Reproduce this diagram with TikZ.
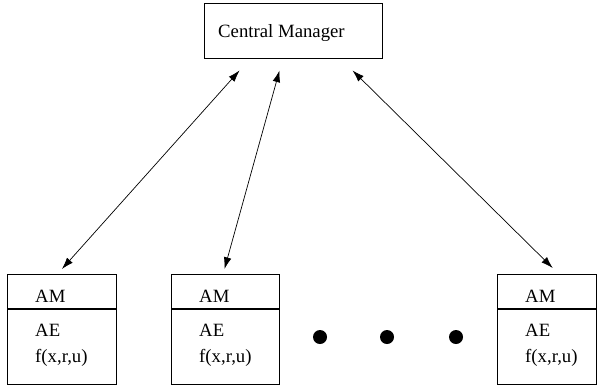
\documentclass[tikz,border=0pt]{standalone}
\usepackage{fontspec}
\setmainfont{Liberation Serif}
\usetikzlibrary{arrows.meta,calc}
\tikzset{>={Latex[length=10pt,width=6.5pt]}}

\begin{document}
\begin{tikzpicture}[x=0.03cm,y=-0.03cm,
    box/.style={draw,line width=0.8pt,inner sep=0pt},
    lbl/.style={anchor=base west,inner sep=0pt,font=\fontsize{16}{19}\selectfont},
    dot/.style={fill,circle,inner sep=0pt,minimum size=0.42cm}]
  \useasboundingbox (0,0) rectangle (597,385);
  % manager on top
  \node[box,minimum width=5.34cm,minimum height=1.65cm] (cm) at (293,30.5) {};
  \node[lbl] (cmtext) at (218,37) {Central Manager};
  % agents, the last one runs up to the edge
  \foreach \n/\X/\W in {1/7/109,2/171/108,3/497/98.5} {
    \node[box,anchor=north west,minimum width=\W*0.03cm,minimum height=3.3cm] (a\n) at (\X,274) {};
    \draw[line width=1.2pt] ($(a\n.north west)+(0,35)$) -- ($(a\n.north east)+(0,35)$);
    \node[lbl] (am\n) at (\X+28,302) {AM};
    \node[lbl] (ae\n) at (\X+28,336) {AE};
    \node[lbl] (f\n) at (\X+28,362) {f(x,r,u)};
  }
  % more agents
  \foreach \i/\X in {1/320,2/387,3/456}
    \node[dot] (d\i) at (\X,337) {};
  % links
  \draw[<->,line width=0.6pt] ($(cm.south west)+(36,12)$) -- ($(a1.north)+(0,-5)$);
  \draw[<->,line width=0.6pt] ($(cm.south west)+(76,12)$) -- ($(a2.north)+(-1,-5)$);
  \draw[<->,line width=0.6pt] ($(cm.south west)+(149,12)$) -- ($(a3.north)+(6,-6)$);
\end{tikzpicture}
\end{document}
